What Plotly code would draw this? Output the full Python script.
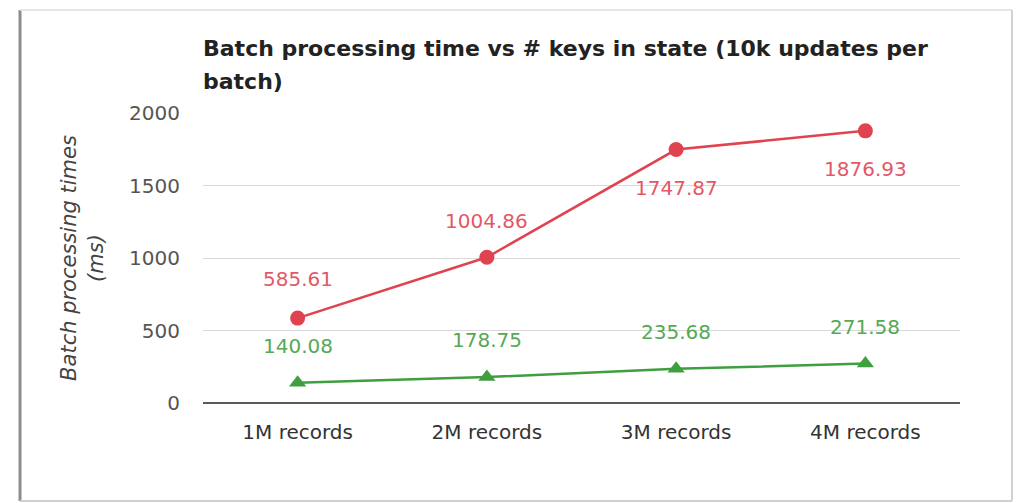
import plotly.graph_objects as go

# Batch processing time as the number of keys in state grows
categories = ["1M records", "2M records", "3M records", "4M records"]
series_a = [585.61, 1004.86, 1747.87, 1876.93]
series_b = [140.08, 178.75, 235.68, 271.58]
y_ticks = [0, 500, 1000, 1500, 2000]

title_lines = ["Batch processing time vs # keys in state (10k updates per", "batch)"]
y_title = "Batch processing times<br>(ms)"

red = "#e0434f"
red_text = "#e45866"
green = "#3f9e3f"
green_text = "#55a955"
font_family = "DejaVu Sans"

fig = go.Figure()

fig.add_trace(go.Scatter(
    x=categories, y=series_a, mode="lines+markers",
    line=dict(color=red, width=2.5),
    marker=dict(symbol="circle", size=15, color=red),
    hoverinfo="skip", showlegend=False,
))
fig.add_trace(go.Scatter(
    x=categories, y=series_b, mode="lines+markers",
    line=dict(color=green, width=2.5),
    marker=dict(symbol="triangle-up", size=15, color=green),
    hoverinfo="skip", showlegend=False,
))

# value labels: red above for the first two points, below for the last two
red_shift = [39, 36, -38, -38]
for cat, val, dy in zip(categories, series_a, red_shift):
    fig.add_annotation(x=cat, y=val, text=f"{val:.2f}", showarrow=False,
                       yshift=dy, font=dict(family=font_family, size=20, color=red_text))
for cat, val in zip(categories, series_b):
    fig.add_annotation(x=cat, y=val, text=f"{val:.2f}", showarrow=False,
                       yshift=37, font=dict(family=font_family, size=20, color=green_text))

# title, two lines
fig.add_annotation(xref="paper", yref="paper", x=-0.003, y=1.224, xanchor="left", yanchor="middle",
                   text=f"<b>{title_lines[0]}</b>", showarrow=False,
                   font=dict(family=font_family, size=22, color="#222222"))
fig.add_annotation(xref="paper", yref="paper", x=-0.003, y=1.11, xanchor="left", yanchor="middle",
                   text=f"<b>{title_lines[1]}</b>", showarrow=False,
                   font=dict(family=font_family, size=22, color="#222222"))

# rotated y axis title
fig.add_annotation(xref="paper", yref="paper", x=-0.16, y=0.5, xanchor="center", yanchor="middle",
                   text=f"<i>{y_title}</i>", textangle=-90, showarrow=False,
                   font=dict(family=font_family, size=21, color="#444444"))

# card frame around the chart
frame = dict(xref="paper", yref="paper", layer="below")
fig.add_shape(type="line", x0=-0.2417, x1=-0.2417, y0=-0.338, y1=1.355,
              line=dict(color="#8c8c8c", width=3), **frame)
fig.add_shape(type="line", x0=-0.2417, x1=1.0687, y0=1.355, y1=1.355,
              line=dict(color="#e6e6e6", width=2), **frame)
fig.add_shape(type="line", x0=1.0687, x1=1.0687, y0=-0.338, y1=1.355,
              line=dict(color="#d2d2d2", width=2), **frame)
fig.add_shape(type="line", x0=-0.2417, x1=1.0687, y0=-0.338, y1=-0.338,
              line=dict(color="#cfcfcf", width=2), **frame)

fig.update_layout(
    width=1019, height=503,
    margin=dict(l=203, r=59, t=113, b=100),
    paper_bgcolor="white", plot_bgcolor="white",
    font=dict(family=font_family),
    xaxis=dict(
        type="category", range=[-0.5, 3.5], showgrid=False, showline=False, zeroline=False,
        tickfont=dict(family=font_family, size=20, color="#333333"),
        ticks="", ticklabelstandoff=15,
    ),
    yaxis=dict(
        range=[0, 2000], tickvals=y_ticks, ticktext=[str(v) for v in y_ticks],
        showgrid=True, gridcolor="#d9d9d9", gridwidth=1,
        zeroline=True, zerolinecolor="#5a5a5a", zerolinewidth=2,
        showline=False, ticks="", ticklabelstandoff=22,
        tickfont=dict(family=font_family, size=20, color="#555555"),
    ),
)

fig.write_html("out.html")
